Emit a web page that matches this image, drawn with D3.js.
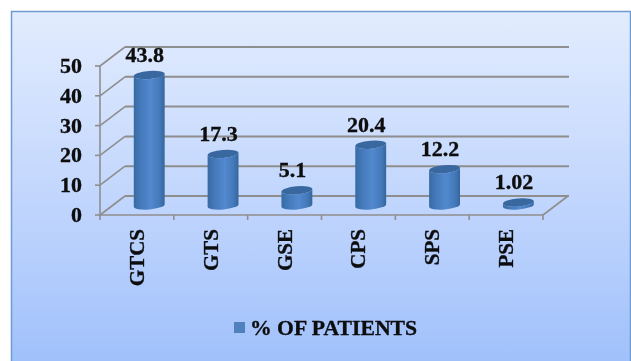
<!DOCTYPE html>
<html><head><meta charset="utf-8">
<script src="https://cdn.jsdelivr.net/npm/d3@7/dist/d3.min.js"></script>
<style>html,body{margin:0;padding:0;background:#fff}svg{display:block}
text{font-family:"Liberation Serif",serif;font-weight:bold;fill:#0a0a0a;stroke:#0a0a0a;stroke-width:0.3px}</style>
</head><body><svg id="c" width="631" height="361"></svg>
<script>
const categories = ["GTCS","GTS","GSE","CPS","SPS","PSE"];
const values = [43.8,17.3,5.1,20.4,12.2,1.02];
const valueLabels = ["43.8","17.3","5.1","20.4","12.2","1.02"];
const yTicks = [0,10,20,30,40,50];
const seriesName = "% OF PATIENTS";

const svg = d3.select("#c");
const defs = svg.append("defs");
const bg = defs.append("linearGradient").attr("id","bg").attr("x1",0).attr("y1",0).attr("x2",0).attr("y2",1);
bg.append("stop").attr("offset",0).attr("stop-color","#e2ecfe");
bg.append("stop").attr("offset",0.55).attr("stop-color","#c0d5fd");
bg.append("stop").attr("offset",1).attr("stop-color","#9fc0fb");
const bar = defs.append("linearGradient").attr("id","bar");
[[0,"#376a a3".replace(" ","")],[0.2,"#4378b8"],[0.55,"#5389cf"],[0.85,"#4378b8"],[1,"#34659c"]].forEach(s=>bar.append("stop").attr("offset",s[0]).attr("stop-color",s[1]));
defs.append("filter").attr("id","soft").append("feGaussianBlur").attr("stdDeviation",0.35);

svg.append("rect").attr("x",11.5).attr("y",11.5).attr("width",619).attr("height",355)
  .attr("fill","url(#bg)").attr("stroke","#6f9bd3").attr("stroke-width",1.5);

const x = d3.scaleBand().domain(categories).range([100,543]);
const y = d3.scaleLinear().domain([0,50]).range([215,66]);
const dx = 25, dy = -19;
const g = svg.append("g").attr("filter","url(#soft)");
const grid = "#8e8e8e";

g.selectAll(".h").data(yTicks).join("line")
  .attr("x1",100+dx).attr("x2",543+dx+1).attr("y1",d=>y(d)+dy).attr("y2",d=>y(d)+dy)
  .attr("stroke",grid).attr("stroke-width",2);
g.selectAll(".d").data(yTicks).join("line")
  .attr("x1",100).attr("x2",100+dx).attr("y1",d=>y(d)).attr("y2",d=>y(d)+dy)
  .attr("stroke",grid).attr("stroke-width",1.6);
g.selectAll(".t").data(yTicks).join("line")
  .attr("x1",95).attr("x2",100).attr("y1",d=>y(d)).attr("y2",d=>y(d))
  .attr("stroke",grid).attr("stroke-width",1.6);
g.append("line").attr("x1",100).attr("x2",100).attr("y1",y(50)).attr("y2",y(0)+5).attr("stroke",grid).attr("stroke-width",1.6);
g.append("line").attr("x1",100).attr("x2",543).attr("y1",y(0)).attr("y2",y(0)).attr("stroke",grid).attr("stroke-width",1.6);
g.append("line").attr("x1",543).attr("x2",543+dx).attr("y1",y(0)).attr("y2",y(0)+dy).attr("stroke",grid).attr("stroke-width",1.6);
g.selectAll(".xt").data(categories).join("line")
  .attr("x1",d=>x(d)+x.bandwidth()).attr("x2",d=>x(d)+x.bandwidth())
  .attr("y1",y(0)).attr("y2",y(0)+5).attr("stroke",grid).attr("stroke-width",1.6);

const rx = 15.5, ry = 4, tilt = -5;
const cx = d => x(d) + x.bandwidth()/2 + dx/2 - 0.2;
const baseY = y(0) + dy/2;
const topY = v => y(v) + dy/2;
categories.forEach((c,i)=>{
  const v = values[i], X = cx(c), Yt = topY(v);
  const A = `A${rx},${ry} ${tilt} 0 0`;
  const sx = rx*Math.cos(tilt*Math.PI/180), sy = rx*Math.sin(tilt*Math.PI/180);
  g.append("path")
    .attr("d",`M${X-sx},${Yt-sy} L${X-sx},${baseY-sy} ${A} ${X+sx},${baseY+sy} L${X+sx},${Yt+sy} ${A.replace(/0 0$/,"0 1")} ${X-sx},${Yt-sy}Z`)
    .attr("fill","url(#bar)");
  g.append("ellipse").attr("cx",X).attr("cy",Yt).attr("rx",rx).attr("ry",ry)
    .attr("transform",`rotate(${tilt} ${X} ${Yt})`).attr("fill","#38689f");
  g.append("text").attr("x",X-4.5).attr("y",Yt-13).attr("text-anchor","middle")
    .attr("font-size",22).text(valueLabels[i]);
});

g.selectAll(".yl").data(yTicks).join("text")
  .attr("x",82).attr("y",d=>y(d)+7).attr("text-anchor","end").attr("font-size",22).text(d=>d);
g.selectAll(".xl").data(categories).join("text")
  .attr("transform",d=>`translate(${x(d)+x.bandwidth()/2+7},229) rotate(-90)`)
  .attr("text-anchor","end").attr("font-size",21).text(d=>d);

g.append("rect").attr("x",234).attr("y",322).attr("width",11).attr("height",11).attr("fill","#4f81bd");
g.append("text").attr("x",250).attr("y",335).attr("font-size",21.7).text(seriesName);
</script></body></html>
